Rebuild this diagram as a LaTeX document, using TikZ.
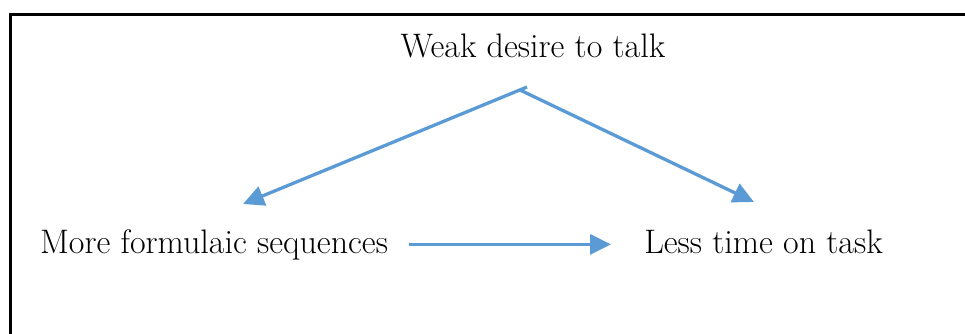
\documentclass[tikz,border=0pt]{standalone}
\usetikzlibrary{arrows.meta,positioning}
\definecolor{arrowblue}{HTML}{5B9BD5}

\begin{document}
\begin{tikzpicture}[
        x=1pt,y=-1pt,
        mytext/.style={
            inner sep=0pt,
            anchor=base,
            font=\fontsize{34}{40}\selectfont},
        myarrow/.style={
            draw=arrowblue,
            line width=3.3pt,
            -{Triangle[length=21pt,width=20pt]}}
        ]
        \useasboundingbox (0,0) rectangle (965,334);
        % frame (only top and left edges visible)
        \draw[line width=3pt] (10.3,334) -- (10.3,14.3) -- (965,14.3);

        \node[mytext] (weak) at (533,58) {Weak desire to talk};
        \node[mytext] (more) at (214,253) {More formulaic sequences};
        \node[mytext] (less) at (763.5,253) {Less time on task};

        \coordinate (apex) at (520,90);
        \coordinate (apexl) at (527,87);
        \coordinate (tipl) at (243,204);
        \coordinate (tipr) at (754,202);

        \draw[myarrow] (apexl) -- (tipl);
        \draw[myarrow] (apex) -- (tipr);
        \draw[myarrow,shorten <=21pt,shorten >=33pt] (more.east) -- (less.west |- more.east);
\end{tikzpicture}
\end{document}
